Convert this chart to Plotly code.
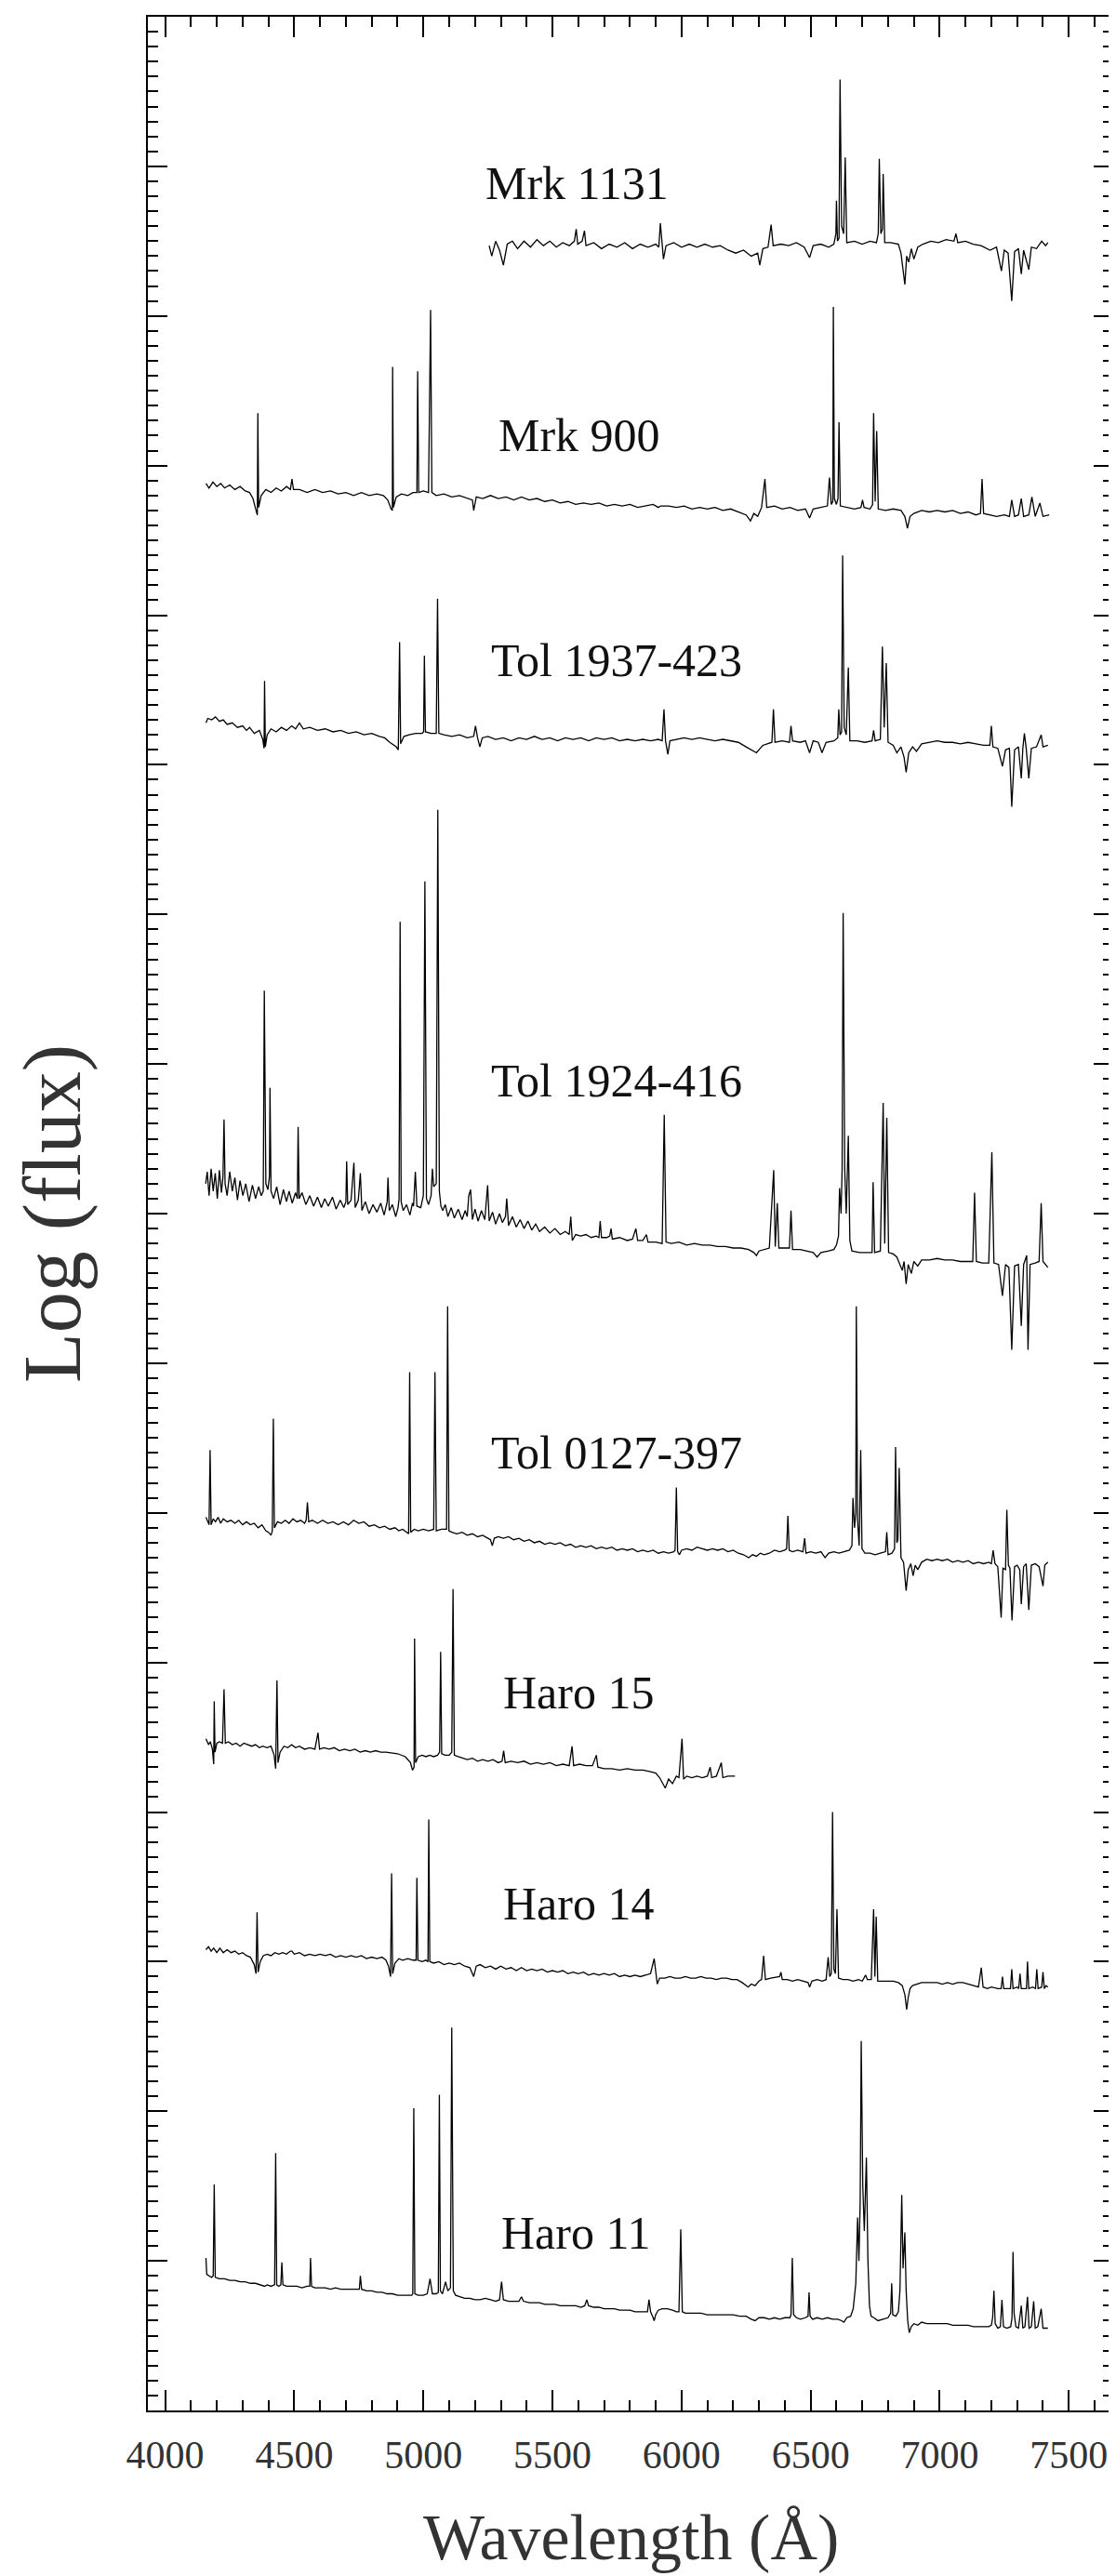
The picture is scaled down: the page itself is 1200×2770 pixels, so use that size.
import plotly.graph_objects as go

# ---------------- data (wavelength in Angstrom, log flux in arbitrary offset units) -------------
MRK1131 = [(5255,14.47),(5265,14.40),(5280,14.50),(5295,14.44),(5310,14.34),(5325,14.48),(5345,14.50),(5365,14.45),(5390,14.50),(5415,14.46),(5440,14.51),(5465,14.47),(5490,14.50),(5515,14.46),(5540,14.49),(5565,14.47),(5585,14.50),(5592,14.58),(5598,14.48),(5615,14.50),(5624,14.57),(5630,14.47),(5660,14.49),(5690,14.45),(5720,14.48),(5750,14.46),(5780,14.49),(5810,14.45),(5840,14.48),(5870,14.46),(5900,14.48),(5912,14.46),(5918,14.62),(5924,14.47),(5930,14.38),(5940,14.47),(5970,14.49),(6000,14.46),(6030,14.48),(6060,14.46),(6090,14.48),(6120,14.46),(6150,14.47),(6180,14.44),(6210,14.42),(6240,14.44),(6270,14.40),(6295,14.42),(6303,14.34),(6315,14.45),(6335,14.46),(6347,14.61),(6355,14.47),(6385,14.48),(6415,14.47),(6445,14.49),(6475,14.46),(6496,14.39),(6510,14.47),(6540,14.48),(6570,14.46),(6590,14.48),(6598,14.55),(6600,14.77),(6604,14.50),(6610,14.52),(6614,15.58),(6620,14.60),(6628,14.55),(6634,15.06),(6640,14.49),(6670,14.50),(6700,14.48),(6730,14.50),(6755,14.49),(6762,14.55),(6766,15.05),(6772,14.55),(6778,14.58),(6781,14.95),(6787,14.49),(6810,14.49),(6840,14.48),(6850,14.42),(6865,14.21),(6872,14.40),(6880,14.36),(6890,14.45),(6900,14.38),(6915,14.46),(6935,14.48),(6965,14.50),(6995,14.49),(7025,14.51),(7055,14.50),(7063,14.55),(7070,14.49),(7100,14.50),(7130,14.48),(7160,14.47),(7195,14.44),(7220,14.46),(7239,14.30),(7250,14.44),(7265,14.42),(7279,14.10),(7290,14.43),(7305,14.45),(7316,14.28),(7325,14.44),(7345,14.31),(7355,14.46),(7375,14.45),(7395,14.50),(7410,14.47),(7419,14.49)]

MRK900 = [(4158,12.88),(4170,12.85),(4185,12.89),(4200,12.86),(4215,12.88),(4230,12.85),(4250,12.87),(4270,12.84),(4290,12.86),(4310,12.83),(4327,12.82),(4340,12.78),(4352,12.70),(4357,12.67),(4359,13.35),(4362,12.72),(4372,12.80),(4390,12.84),(4410,12.82),(4430,12.85),(4450,12.83),(4470,12.86),(4485,12.84),(4491,12.91),(4497,12.84),(4520,12.84),(4550,12.82),(4580,12.84),(4610,12.82),(4640,12.83),(4670,12.81),(4700,12.82),(4730,12.80),(4760,12.82),(4790,12.80),(4820,12.81),(4845,12.80),(4862,12.77),(4875,12.71),(4880,12.70),(4881,13.66),(4884,12.72),(4895,12.79),(4915,12.81),(4940,12.80),(4960,12.82),(4975,12.82),(4978,13.63),(4982,12.82),(5000,12.83),(5020,12.82),(5028,14.04),(5033,12.82),(5050,12.80),(5080,12.81),(5110,12.79),(5140,12.80),(5170,12.78),(5190,12.77),(5195,12.70),(5205,12.79),(5230,12.78),(5260,12.80),(5290,12.78),(5320,12.79),(5350,12.77),(5380,12.79),(5410,12.77),(5440,12.78),(5470,12.76),(5500,12.77),(5530,12.75),(5560,12.76),(5590,12.74),(5620,12.75),(5650,12.74),(5680,12.75),(5710,12.73),(5740,12.74),(5770,12.73),(5800,12.74),(5830,12.72),(5860,12.73),(5890,12.74),(5910,12.72),(5920,12.73),(5950,12.73),(5980,12.72),(6010,12.73),(6040,12.71),(6070,12.72),(6100,12.71),(6130,12.72),(6160,12.70),(6190,12.71),(6220,12.69),(6250,12.67),(6267,12.63),(6280,12.68),(6295,12.66),(6310,12.72),(6323,12.91),(6330,12.72),(6360,12.73),(6390,12.71),(6420,12.72),(6450,12.70),(6480,12.71),(6496,12.65),(6510,12.71),(6540,12.72),(6565,12.73),(6573,12.92),(6580,12.74),(6586,12.76),(6588,14.06),(6592,12.78),(6600,12.74),(6606,12.78),(6610,13.29),(6615,12.73),(6640,12.72),(6670,12.71),(6695,12.72),(6701,12.77),(6707,12.72),(6730,12.71),(6740,12.74),(6744,13.35),(6750,12.76),(6756,13.23),(6762,12.71),(6790,12.70),(6820,12.71),(6850,12.70),(6865,12.66),(6875,12.58),(6885,12.66),(6900,12.68),(6930,12.70),(6960,12.69),(6990,12.70),(7020,12.69),(7050,12.70),(7080,12.68),(7110,12.69),(7140,12.67),(7158,12.68),(7164,12.91),(7170,12.68),(7195,12.67),(7220,12.66),(7250,12.67),(7270,12.66),(7279,12.77),(7290,12.66),(7305,12.67),(7316,12.78),(7325,12.66),(7345,12.67),(7357,12.79),(7370,12.66),(7388,12.75),(7400,12.66),(7424,12.67)]

TOL1937 = [(4158,11.28),(4165,11.31),(4180,11.30),(4195,11.32),(4210,11.29),(4225,11.30),(4240,11.27),(4260,11.28),(4280,11.25),(4300,11.26),(4315,11.23),(4327,11.25),(4345,11.21),(4365,11.23),(4378,11.17),(4383,11.11),(4385,11.56),(4388,11.12),(4395,11.20),(4410,11.24),(4430,11.22),(4450,11.25),(4470,11.23),(4490,11.26),(4505,11.24),(4520,11.28),(4535,11.24),(4560,11.25),(4590,11.23),(4620,11.24),(4650,11.22),(4680,11.23),(4710,11.21),(4740,11.22),(4770,11.20),(4800,11.21),(4830,11.19),(4850,11.18),(4870,11.15),(4895,11.12),(4903,11.10),(4908,11.82),(4912,11.14),(4925,11.19),(4945,11.20),(4970,11.21),(4995,11.21),(5001,11.22),(5004,11.73),(5008,11.22),(5030,11.21),(5050,11.21),(5055,12.11),(5060,11.21),(5080,11.20),(5110,11.19),(5140,11.20),(5170,11.18),(5195,11.19),(5202,11.26),(5210,11.18),(5219,11.12),(5228,11.18),(5250,11.19),(5280,11.17),(5310,11.18),(5340,11.16),(5370,11.18),(5400,11.17),(5430,11.19),(5460,11.17),(5490,11.18),(5520,11.16),(5550,11.18),(5580,11.17),(5610,11.18),(5640,11.16),(5670,11.18),(5700,11.17),(5730,11.18),(5760,11.16),(5790,11.17),(5820,11.16),(5850,11.17),(5880,11.16),(5910,11.17),(5925,11.16),(5932,11.37),(5938,11.16),(5947,11.07),(5955,11.16),(5980,11.17),(6010,11.18),(6040,11.17),(6070,11.18),(6100,11.17),(6130,11.16),(6160,11.17),(6190,11.16),(6220,11.15),(6250,11.12),(6270,11.10),(6290,11.08),(6305,11.11),(6315,11.13),(6350,11.15),(6356,11.37),(6362,11.15),(6390,11.16),(6418,11.15),(6424,11.26),(6430,11.16),(6460,11.15),(6480,11.16),(6496,11.08),(6510,11.16),(6530,11.15),(6544,11.08),(6560,11.15),(6590,11.16),(6605,11.18),(6609,11.37),(6614,11.20),(6620,11.22),(6624,12.40),(6630,11.25),(6638,11.20),(6646,11.65),(6652,11.16),(6680,11.16),(6710,11.15),(6738,11.16),(6744,11.23),(6750,11.16),(6770,11.17),(6778,11.79),(6785,11.25),(6793,11.68),(6800,11.15),(6820,11.13),(6834,11.08),(6850,11.12),(6862,11.05),(6870,10.95),(6880,11.08),(6895,11.12),(6910,11.09),(6930,11.14),(6960,11.15),(6990,11.16),(7020,11.15),(7050,11.15),(7080,11.14),(7110,11.15),(7140,11.14),(7170,11.13),(7194,11.13),(7200,11.26),(7206,11.12),(7225,11.11),(7243,10.99),(7255,11.10),(7270,11.11),(7279,10.72),(7290,11.10),(7305,11.12),(7316,10.91),(7322,11.11),(7328,11.21),(7335,11.11),(7345,10.91),(7355,11.11),(7375,11.12),(7393,11.20),(7400,11.12),(7419,11.13)]

TOL1924 = [(4157,8.20),(4163,8.28),(4170,8.12),(4178,8.30),(4186,8.15),(4194,8.27),(4202,8.10),(4210,8.29),(4218,8.14),(4224,8.25),(4228,8.63),(4232,8.20),(4240,8.12),(4250,8.28),(4260,8.15),(4270,8.24),(4280,8.09),(4290,8.22),(4301,8.12),(4312,8.20),(4325,8.08),(4338,8.19),(4350,8.10),(4362,8.18),(4372,8.12),(4380,8.15),(4384,9.49),(4390,8.20),(4398,8.16),(4404,8.25),(4406,8.84),(4410,8.15),(4420,8.10),(4432,8.18),(4445,8.06),(4458,8.16),(4470,8.08),(4480,8.15),(4492,8.07),(4505,8.14),(4512,8.10),(4515,8.58),(4519,8.10),(4530,8.14),(4545,8.06),(4560,8.12),(4575,8.05),(4590,8.11),(4605,8.04),(4618,8.10),(4632,8.05),(4648,8.11),(4662,8.03),(4678,8.09),(4692,8.04),(4700,8.08),(4703,8.35),(4707,8.06),(4720,8.09),(4731,8.34),(4736,8.04),(4748,8.09),(4756,8.27),(4762,8.02),(4775,8.08),(4790,8.00),(4805,8.06),(4820,8.01),(4835,8.07),(4848,7.99),(4860,8.08),(4863,8.24),(4868,8.02),(4880,8.06),(4893,7.98),(4902,8.04),(4906,8.10),(4910,9.95),(4914,8.08),(4922,8.02),(4935,8.06),(4948,7.99),(4958,8.07),(4962,8.05),(4969,8.28),(4975,8.05),(4990,8.04),(5000,8.12),(5006,10.22),(5012,8.10),(5020,8.06),(5030,8.12),(5035,8.30),(5040,8.18),(5050,8.20),(5056,10.70),(5062,8.15),(5068,8.05),(5075,8.02),(5085,8.06),(5095,7.98),(5108,8.04),(5120,7.97),(5135,8.03),(5150,7.96),(5162,8.02),(5170,7.98),(5176,8.12),(5183,8.16),(5190,7.96),(5200,8.03),(5212,7.95),(5225,8.02),(5238,7.96),(5249,8.19),(5255,7.95),(5268,8.01),(5280,7.93),(5295,8.00),(5306,7.94),(5318,7.98),(5323,8.10),(5330,7.92),(5345,7.98),(5360,7.91),(5375,7.96),(5390,7.90),(5405,7.95),(5420,7.89),(5435,7.93),(5450,7.88),(5470,7.91),(5490,7.87),(5510,7.90),(5530,7.86),(5550,7.88),(5565,7.86),(5571,7.98),(5577,7.82),(5590,7.86),(5610,7.85),(5630,7.86),(5650,7.84),(5670,7.85),(5680,7.84),(5685,7.95),(5690,7.84),(5710,7.84),(5722,7.85),(5727,7.90),(5732,7.83),(5760,7.84),(5790,7.82),(5810,7.83),(5823,7.90),(5830,7.82),(5850,7.82),(5864,7.86),(5870,7.81),(5900,7.81),(5925,7.80),(5933,8.66),(5940,7.81),(5960,7.80),(5990,7.81),(6020,7.79),(6050,7.80),(6080,7.79),(6110,7.79),(6140,7.78),(6170,7.78),(6200,7.77),(6230,7.77),(6260,7.76),(6280,7.74),(6290,7.72),(6300,7.75),(6320,7.76),(6340,7.77),(6357,8.29),(6363,7.78),(6371,8.07),(6377,7.77),(6400,7.77),(6418,7.77),(6424,8.02),(6430,7.76),(6460,7.76),(6490,7.75),(6510,7.74),(6525,7.71),(6540,7.74),(6570,7.75),(6590,7.76),(6600,7.79),(6608,7.85),(6612,8.17),(6618,8.00),(6622,8.30),(6626,10.01),(6632,8.30),(6638,8.00),(6646,8.52),(6652,7.82),(6660,7.75),(6690,7.74),(6720,7.74),(6738,7.74),(6742,8.21),(6748,7.74),(6770,7.75),(6781,8.74),(6787,7.80),(6795,8.64),(6802,7.74),(6820,7.73),(6834,7.71),(6845,7.66),(6855,7.62),(6862,7.68),(6870,7.53),(6878,7.66),(6890,7.60),(6900,7.68),(6915,7.65),(6930,7.69),(6960,7.69),(6990,7.70),(7020,7.69),(7050,7.69),(7080,7.68),(7110,7.68),(7128,7.68),(7135,8.14),(7142,7.68),(7165,7.67),(7190,7.67),(7202,8.41),(7210,7.67),(7228,7.66),(7243,7.45),(7255,7.66),(7268,7.64),(7279,7.09),(7290,7.65),(7305,7.66),(7316,7.25),(7325,7.66),(7337,7.72),(7342,7.09),(7350,7.66),(7370,7.67),(7385,7.68),(7393,8.07),(7400,7.68),(7419,7.64)]

TOL0127 = [(4158,5.97),(4165,5.94),(4170,5.92),(4174,6.42),(4178,5.92),(4186,5.96),(4195,5.94),(4205,5.97),(4215,5.93),(4225,5.96),(4240,5.94),(4255,5.95),(4270,5.93),(4285,5.95),(4300,5.92),(4315,5.94),(4330,5.92),(4345,5.93),(4360,5.90),(4375,5.92),(4390,5.88),(4400,5.87),(4410,5.85),(4415,5.88),(4419,6.63),(4423,5.90),(4435,5.94),(4450,5.93),(4465,5.95),(4480,5.93),(4495,5.96),(4510,5.94),(4525,5.95),(4540,5.93),(4546,5.95),(4551,6.07),(4556,5.94),(4570,5.95),(4590,5.93),(4610,5.95),(4630,5.93),(4650,5.94),(4670,5.92),(4690,5.94),(4710,5.92),(4730,5.95),(4750,5.93),(4770,5.94),(4790,5.91),(4810,5.92),(4830,5.90),(4850,5.91),(4870,5.89),(4890,5.90),(4905,5.88),(4920,5.89),(4935,5.87),(4943,5.86),(4947,6.94),(4951,5.87),(4965,5.89),(4980,5.88),(5000,5.89),(5020,5.88),(5040,5.89),(5045,6.94),(5050,5.88),(5070,5.89),(5090,5.89),(5094,7.38),(5099,5.88),(5110,5.87),(5130,5.86),(5150,5.87),(5170,5.85),(5190,5.86),(5210,5.84),(5230,5.85),(5250,5.83),(5260,5.82),(5267,5.78),(5275,5.83),(5290,5.84),(5310,5.83),(5330,5.84),(5350,5.82),(5370,5.83),(5390,5.81),(5410,5.82),(5430,5.80),(5450,5.81),(5470,5.79),(5490,5.80),(5510,5.79),(5530,5.80),(5550,5.78),(5570,5.79),(5590,5.77),(5610,5.78),(5630,5.77),(5650,5.78),(5670,5.76),(5690,5.77),(5710,5.76),(5730,5.77),(5750,5.75),(5770,5.76),(5790,5.75),(5810,5.76),(5830,5.74),(5850,5.75),(5870,5.74),(5890,5.75),(5910,5.73),(5930,5.74),(5950,5.73),(5970,5.74),(5975,5.75),(5980,6.17),(5985,5.74),(5992,5.72),(6000,5.75),(6020,5.76),(6040,5.75),(6060,5.77),(6080,5.76),(6100,5.75),(6120,5.76),(6140,5.75),(6160,5.76),(6180,5.74),(6200,5.75),(6220,5.73),(6240,5.72),(6260,5.70),(6275,5.72),(6290,5.71),(6305,5.73),(6320,5.72),(6340,5.73),(6360,5.75),(6380,5.74),(6400,5.75),(6407,5.76),(6412,5.98),(6417,5.75),(6430,5.74),(6450,5.75),(6470,5.74),(6477,5.83),(6482,5.73),(6500,5.74),(6520,5.73),(6540,5.74),(6556,5.70),(6570,5.73),(6590,5.74),(6610,5.73),(6630,5.74),(6650,5.75),(6660,5.78),(6664,6.10),(6670,5.90),(6675,6.00),(6677,7.38),(6682,5.95),(6688,5.78),(6694,6.42),(6699,5.76),(6710,5.73),(6730,5.73),(6750,5.72),(6770,5.73),(6790,5.74),(6795,5.87),(6800,5.72),(6815,5.73),(6825,5.76),(6829,6.44),(6834,5.80),(6838,5.82),(6843,6.30),(6850,5.70),(6860,5.67),(6870,5.48),(6878,5.62),(6888,5.66),(6897,5.58),(6905,5.65),(6915,5.62),(6930,5.67),(6950,5.69),(6970,5.68),(6990,5.69),(7010,5.68),(7030,5.69),(7050,5.67),(7070,5.68),(7090,5.67),(7110,5.68),(7130,5.66),(7150,5.67),(7170,5.66),(7190,5.67),(7200,5.66),(7207,5.75),(7214,5.66),(7225,5.64),(7238,5.30),(7245,5.63),(7255,5.62),(7260,6.02),(7266,5.65),(7272,5.63),(7280,5.28),(7290,5.64),(7300,5.65),(7310,5.62),(7316,5.39),(7325,5.64),(7335,5.66),(7345,5.35),(7355,5.65),(7370,5.66),(7385,5.64),(7400,5.51),(7407,5.65),(7419,5.67)]

HARO15 = [(4158,4.49),(4168,4.45),(4175,4.47),(4183,4.42),(4188,4.32),(4190,4.74),(4193,4.40),(4200,4.46),(4210,4.47),(4222,4.46),(4228,4.82),(4233,4.46),(4245,4.47),(4260,4.45),(4275,4.46),(4290,4.44),(4305,4.46),(4320,4.45),(4335,4.44),(4350,4.45),(4365,4.43),(4378,4.44),(4395,4.43),(4410,4.44),(4422,4.38),(4428,4.29),(4433,4.88),(4437,4.33),(4445,4.40),(4460,4.44),(4475,4.43),(4490,4.45),(4505,4.43),(4520,4.44),(4540,4.42),(4560,4.43),(4580,4.42),(4592,4.53),(4598,4.42),(4615,4.43),(4635,4.42),(4655,4.43),(4675,4.41),(4695,4.42),(4715,4.41),(4735,4.42),(4755,4.40),(4775,4.41),(4795,4.40),(4815,4.41),(4835,4.40),(4855,4.40),(4900,4.39),(4930,4.37),(4950,4.33),(4958,4.28),(4964,4.30),(4966,5.16),(4970,4.33),(4980,4.37),(4995,4.38),(5010,4.37),(5025,4.38),(5040,4.37),(5055,4.38),(5063,4.40),(5067,5.07),(5071,4.39),(5085,4.38),(5100,4.38),(5110,4.40),(5115,5.49),(5120,4.38),(5135,4.37),(5150,4.36),(5170,4.35),(5190,4.36),(5210,4.34),(5230,4.35),(5250,4.34),(5270,4.35),(5290,4.33),(5305,4.34),(5311,4.41),(5317,4.33),(5340,4.34),(5365,4.33),(5390,4.34),(5415,4.32),(5440,4.33),(5465,4.32),(5490,4.33),(5515,4.31),(5540,4.32),(5565,4.31),(5576,4.44),(5582,4.31),(5605,4.32),(5630,4.31),(5655,4.31),(5670,4.38),(5676,4.30),(5700,4.29),(5730,4.29),(5760,4.28),(5790,4.29),(5820,4.28),(5850,4.28),(5880,4.27),(5900,4.26),(5915,4.23),(5925,4.20),(5937,4.16),(5950,4.22),(5965,4.19),(5980,4.24),(5990,4.23),(6002,4.49),(6008,4.22),(6020,4.24),(6040,4.23),(6060,4.24),(6080,4.23),(6100,4.24),(6111,4.30),(6117,4.23),(6135,4.24),(6154,4.33),(6160,4.23),(6180,4.24),(6207,4.24)]

HARO14 = [(4158,3.08),(4168,3.10),(4178,3.07),(4188,3.09),(4200,3.06),(4212,3.09),(4225,3.06),(4240,3.08),(4255,3.06),(4270,3.07),(4285,3.05),(4300,3.06),(4315,3.04),(4330,3.03),(4345,2.98),(4352,2.92),(4356,3.33),(4360,2.93),(4368,3.00),(4380,3.04),(4395,3.05),(4410,3.04),(4425,3.06),(4440,3.05),(4455,3.06),(4470,3.05),(4485,3.07),(4491,3.07),(4500,3.05),(4520,3.06),(4540,3.04),(4560,3.05),(4580,3.04),(4600,3.05),(4620,3.04),(4640,3.05),(4660,3.03),(4680,3.04),(4700,3.03),(4720,3.04),(4740,3.03),(4760,3.04),(4780,3.02),(4800,3.03),(4820,3.02),(4840,3.03),(4855,3.01),(4865,2.97),(4873,2.90),(4877,3.59),(4881,2.92),(4890,2.99),(4905,3.02),(4920,3.01),(4940,3.02),(4960,3.01),(4972,3.01),(4975,3.56),(4979,3.01),(4995,3.00),(5010,3.01),(5018,3.00),(5021,3.95),(5025,3.00),(5040,2.99),(5060,3.00),(5080,2.98),(5100,2.99),(5120,2.98),(5140,2.99),(5160,2.97),(5180,2.96),(5195,2.90),(5205,2.97),(5220,2.98),(5240,2.96),(5260,2.97),(5280,2.95),(5300,2.97),(5320,2.95),(5340,2.96),(5360,2.94),(5380,2.96),(5400,2.94),(5420,2.95),(5440,2.94),(5460,2.95),(5480,2.93),(5500,2.94),(5520,2.93),(5540,2.94),(5560,2.92),(5580,2.93),(5600,2.92),(5620,2.93),(5640,2.91),(5660,2.92),(5680,2.91),(5700,2.92),(5720,2.91),(5740,2.92),(5760,2.90),(5780,2.91),(5800,2.90),(5820,2.91),(5840,2.90),(5860,2.91),(5880,2.92),(5894,3.02),(5900,2.92),(5906,2.85),(5915,2.89),(5935,2.89),(5955,2.90),(5975,2.89),(5995,2.89),(6015,2.90),(6035,2.89),(6055,2.89),(6075,2.90),(6095,2.89),(6115,2.89),(6135,2.88),(6155,2.89),(6175,2.89),(6195,2.88),(6215,2.88),(6235,2.86),(6250,2.84),(6258,2.83),(6270,2.85),(6285,2.84),(6300,2.87),(6310,2.88),(6318,3.04),(6325,2.88),(6345,2.89),(6380,2.90),(6385,2.93),(6390,2.88),(6410,2.88),(6430,2.87),(6450,2.88),(6470,2.87),(6490,2.86),(6496,2.83),(6505,2.87),(6525,2.88),(6545,2.87),(6560,2.88),(6568,3.03),(6574,2.90),(6580,2.92),(6585,4.00),(6590,2.95),(6596,2.92),(6602,3.35),(6608,2.89),(6625,2.88),(6645,2.88),(6665,2.87),(6685,2.88),(6700,2.87),(6713,2.91),(6720,2.88),(6735,2.88),(6744,3.35),(6749,2.90),(6754,3.30),(6760,2.87),(6780,2.87),(6800,2.87),(6820,2.87),(6840,2.86),(6855,2.84),(6865,2.78),(6872,2.68),(6878,2.76),(6885,2.82),(6895,2.84),(6910,2.85),(6930,2.86),(6950,2.86),(6970,2.86),(6990,2.86),(7010,2.85),(7030,2.86),(7050,2.85),(7070,2.86),(7090,2.86),(7110,2.85),(7130,2.84),(7150,2.83),(7161,2.96),(7168,2.83),(7185,2.82),(7200,2.83),(7225,2.82),(7238,2.82),(7243,2.90),(7248,2.82),(7265,2.82),(7274,2.82),(7279,2.95),(7284,2.82),(7300,2.83),(7306,2.82),(7311,2.92),(7316,2.82),(7330,2.82),(7336,2.82),(7340,3.00),(7345,2.82),(7360,2.83),(7371,2.82),(7376,2.95),(7381,2.82),(7395,2.83),(7400,2.93),(7405,2.82),(7412,2.84),(7419,2.83)]

HARO11 = [(4158,1.02),(4161,0.91),(4170,0.90),(4180,0.89),(4186,0.90),(4190,1.51),(4194,0.89),(4210,0.88),(4230,0.88),(4250,0.87),(4270,0.87),(4290,0.86),(4310,0.86),(4330,0.85),(4350,0.85),(4370,0.84),(4385,0.83),(4395,0.84),(4410,0.83),(4424,0.84),(4428,1.72),(4432,0.84),(4440,0.83),(4448,0.84),(4452,0.99),(4456,0.84),(4470,0.83),(4490,0.83),(4510,0.83),(4530,0.82),(4550,0.83),(4560,0.83),(4563,1.02),(4567,0.83),(4580,0.82),(4600,0.82),(4620,0.82),(4640,0.81),(4660,0.82),(4680,0.81),(4700,0.81),(4720,0.81),(4740,0.81),(4752,0.81),(4756,0.90),(4761,0.81),(4780,0.80),(4800,0.80),(4820,0.79),(4840,0.79),(4860,0.78),(4880,0.78),(4900,0.77),(4920,0.77),(4940,0.77),(4955,0.77),(4959,0.78),(4963,2.02),(4967,0.78),(4980,0.77),(5000,0.77),(5015,0.78),(5026,0.88),(5035,0.78),(5050,0.78),(5058,0.79),(5062,2.11),(5066,0.80),(5074,0.78),(5086,0.86),(5095,0.80),(5105,0.82),(5110,2.56),(5116,0.80),(5125,0.77),(5140,0.76),(5160,0.75),(5180,0.75),(5200,0.74),(5220,0.74),(5240,0.75),(5260,0.74),(5280,0.73),(5295,0.74),(5303,0.86),(5310,0.74),(5330,0.73),(5350,0.73),(5370,0.73),(5380,0.76),(5388,0.73),(5410,0.72),(5430,0.72),(5450,0.72),(5470,0.71),(5490,0.71),(5510,0.71),(5530,0.70),(5550,0.70),(5570,0.70),(5590,0.70),(5610,0.69),(5625,0.70),(5633,0.74),(5640,0.70),(5660,0.69),(5680,0.69),(5700,0.68),(5720,0.68),(5740,0.68),(5760,0.67),(5780,0.67),(5800,0.67),(5820,0.66),(5840,0.66),(5860,0.66),(5868,0.66),(5874,0.74),(5880,0.66),(5890,0.62),(5894,0.60),(5900,0.64),(5910,0.67),(5925,0.68),(5945,0.68),(5965,0.67),(5980,0.66),(5990,0.66),(5997,1.21),(6003,0.66),(6015,0.65),(6035,0.65),(6055,0.65),(6075,0.65),(6100,0.64),(6125,0.64),(6150,0.64),(6175,0.64),(6200,0.64),(6225,0.63),(6250,0.63),(6270,0.61),(6285,0.60),(6300,0.62),(6320,0.62),(6340,0.61),(6360,0.62),(6380,0.61),(6400,0.62),(6420,0.62),(6424,0.64),(6429,1.02),(6434,0.64),(6445,0.62),(6460,0.61),(6480,0.62),(6490,0.63),(6494,0.79),(6498,0.63),(6508,0.61),(6525,0.62),(6545,0.61),(6565,0.62),(6585,0.61),(6605,0.61),(6620,0.60),(6629,0.59),(6640,0.62),(6655,0.63),(6665,0.68),(6675,0.85),(6682,1.29),(6687,1.00),(6692,1.40),(6696,2.47),(6702,1.50),(6708,1.20),(6716,1.69),(6722,1.00),(6728,0.70),(6734,0.63),(6745,0.62),(6761,0.60),(6780,0.61),(6800,0.62),(6810,0.65),(6814,0.85),(6818,0.64),(6830,0.63),(6840,0.66),(6846,0.80),(6853,1.44),(6858,0.95),(6865,1.19),(6870,0.80),(6876,0.60),(6882,0.52),(6890,0.56),(6900,0.58),(6915,0.57),(6930,0.59),(6950,0.58),(6970,0.58),(6990,0.58),(7010,0.58),(7030,0.58),(7050,0.57),(7070,0.57),(7090,0.57),(7110,0.57),(7130,0.56),(7150,0.56),(7170,0.56),(7190,0.56),(7200,0.57),(7205,0.62),(7210,0.80),(7215,0.58),(7225,0.55),(7235,0.56),(7241,0.74),(7247,0.56),(7260,0.55),(7275,0.56),(7280,0.62),(7284,1.06),(7288,0.65),(7295,0.56),(7305,0.55),(7316,0.70),(7322,0.55),(7330,0.56),(7340,0.76),(7346,0.55),(7355,0.56),(7364,0.73),(7370,0.55),(7380,0.56),(7393,0.68),(7400,0.55),(7410,0.55),(7419,0.55)]

SPECTRA = [MRK1131, MRK900, TOL1937, TOL1924, TOL0127, HARO15, HARO14, HARO11]
NAMES = ["Mrk 1131", "Mrk 900", "Tol 1937-423", "Tol 1924-416", "Tol 0127-397", "Haro 15", "Haro 14", "Haro 11"]
LABEL_X = [5596, 5603, 5750, 5750, 5750, 5599, 5599, 5592]
LABEL_Y = [14.89, 13.20, 11.70, 8.89, 6.40, 4.80, 3.39, 1.19]
XTICKS = [4000, 4500, 5000, 5500, 6000, 6500, 7000, 7500]

FONT = "Liberation Serif, Times New Roman, serif"

fig = go.Figure()
for name, spec in zip(NAMES, SPECTRA):
    wl = [p[0] for p in spec]
    fl = [p[1] for p in spec]
    fig.add_trace(go.Scatter(x=wl, y=fl, mode="lines", name=name,
                             line=dict(color="black", width=1.3), showlegend=False,
                             hoverinfo="skip"))

for name, lx, ly in zip(NAMES, LABEL_X, LABEL_Y):
    fig.add_annotation(x=lx, y=ly, xref="x", yref="y", text=name, showarrow=False,
                       xanchor="center", yanchor="middle",
                       font=dict(family=FONT, size=50, color="#111"))

fig.add_annotation(x=0.5, y=-0.0532, xref="paper", yref="paper", text="Wavelength (Å)",
                   showarrow=False, xanchor="center", yanchor="middle",
                   font=dict(family=FONT, size=70, color="#333"))
fig.add_annotation(x=-0.0992, y=0.5, xref="paper", yref="paper", text="Log (flux)",
                   showarrow=False, xanchor="center", yanchor="middle", textangle=-90,
                   font=dict(family=FONT, size=88, color="#333"))

fig.update_layout(
    width=1200, height=2770,
    margin=dict(l=151, r=11, t=8, b=186),
    paper_bgcolor="white", plot_bgcolor="white",
    xaxis=dict(range=[3933, 7672], tickvals=XTICKS, ticktext=[str(t) for t in XTICKS],
               ticks="inside", ticklen=22, tickwidth=1.5, tickcolor="black",
               minor=dict(dtick=100, tick0=4000, ticks="inside", ticklen=11, tickwidth=1.5, tickcolor="black"),
               showline=True, linewidth=2, linecolor="black", mirror="allticks",
               showgrid=False, zeroline=False, ticklabelstandoff=10,
               tickfont=dict(family=FONT, size=42, color="#333")),
    yaxis=dict(range=[0, 16], dtick=1, tick0=0,
               ticks="inside", ticklen=21, tickwidth=1.5, tickcolor="black",
               minor=dict(dtick=0.1, ticks="inside", ticklen=11, tickwidth=1.5, tickcolor="black"),
               showline=True, linewidth=2, linecolor="black", mirror="allticks",
               showgrid=False, zeroline=False, showticklabels=False),
)

fig.write_html("out.html")
